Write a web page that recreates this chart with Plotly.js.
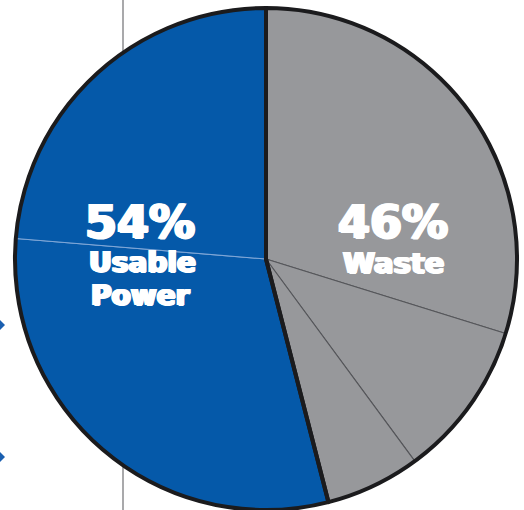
<!DOCTYPE html>
<html>
<head>
<meta charset="utf-8">
<script src="https://cdn.plot.ly/plotly-3.0.1.min.js"></script>
<style>html,body{margin:0;padding:0;background:#fff;}#chart{width:524px;height:510px;}</style>
</head>
<body>
<div id="chart"></div>
<script>
// Detailed slices (clockwise from 12 o'clock)
const sliceLabels = ["Waste A", "Waste B", "Waste C", "Usable A", "Usable B"];
const sliceValues = [29.8, 10.1, 6.1, 30.3, 23.7];
const sliceColors = ["#97989b", "#97989b", "#97989b", "#0559a9", "#0559a9"];
const sliceLineColors = ["#55565a", "#55565a", "#55565a", "#7fa6d6", "#7fa6d6"];

// Main groups
const groupLabels = ["Waste", "Usable Power"];
const groupValues = [46, 54];
const pctText = ["46%", "54%"];
const wasteLines = ["Waste"];
const usableLines = ["Usable", "Power"];

const W = 524, H = 510;
const cx = 266, cy = 259, R = 251;
const domain = {
  x: [(cx - R) / W, (cx + R) / W],
  y: [(H - cy - R) / H, (H - cy + R) / H]
};

const traces = [
  {
    type: "pie", labels: sliceLabels, values: sliceValues, sort: false,
    direction: "clockwise", rotation: 0, textinfo: "none", hoverinfo: "none",
    domain: domain,
    marker: { colors: sliceColors, line: { color: sliceLineColors, width: 1.1 } },
    showlegend: false
  },
  {
    type: "pie", labels: groupLabels, values: groupValues, sort: false,
    direction: "clockwise", rotation: 0, textinfo: "none", hoverinfo: "none",
    domain: domain,
    marker: { colors: ["rgba(0,0,0,0)", "rgba(0,0,0,0)"], line: { color: "#1b1b1d", width: 4 } },
    showlegend: false
  }
];

const heavy = "1.4px 0 0 #fff, -1.4px 0 0 #fff, 0.7px 0.5px 0 #fff, -0.7px -0.5px 0 #fff";
function ann(x, y, text, size) {
  return { xref: "paper", yref: "paper", showarrow: false, xanchor: "center", yanchor: "middle",
    x: x / W, y: 1 - y / H, text: "<b>" + text + "</b>",
    font: { family: "DejaVu Sans", color: "#ffffff", size: size, shadow: heavy } };
}
const annotations = [
  ann(393, 222, pctText[0], 46),
  ann(393, 263, wasteLines[0], 29),
  ann(140, 222, pctText[1], 46),
  ann(142, 262, usableLines[0], 28),
  ann(140, 295, usableLines[1], 28)
];

const layout = {
  width: W, height: H,
  margin: { l: 0, r: 0, t: 0, b: 0 },
  paper_bgcolor: "#ffffff", plot_bgcolor: "#ffffff",
  showlegend: false,
  annotations: annotations,
  shapes: [
    { type: "line", xref: "paper", yref: "paper", x0: 123 / W, x1: 123 / W, y0: 0, y1: 1, layer: "below",
      line: { color: "#a9a9ab", width: 2 } },
    { type: "path", xref: "paper", yref: "paper", layer: "below",
      path: `M 0 ${1 - 320 / H} L ${5 / W} ${1 - 325 / H} L 0 ${1 - 330 / H} Z`,
      fillcolor: "#1a5fb0", line: { width: 0 } },
    { type: "path", xref: "paper", yref: "paper", layer: "below",
      path: `M 0 ${1 - 452 / H} L ${5 / W} ${1 - 457 / H} L 0 ${1 - 462 / H} Z`,
      fillcolor: "#1a5fb0", line: { width: 0 } }
  ]
};

Plotly.newPlot("chart", traces, layout, { displayModeBar: false, staticPlot: true });
</script>
</body>
</html>
